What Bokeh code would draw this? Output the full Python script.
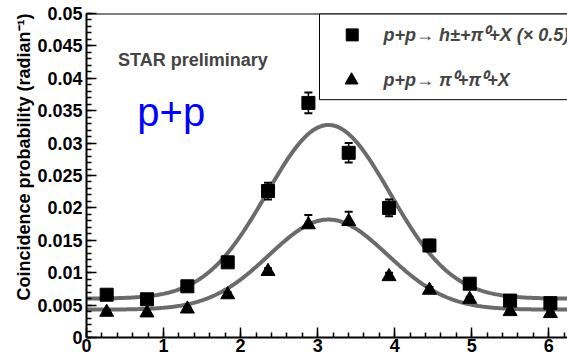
import numpy as np
from bokeh.plotting import figure
from bokeh.models import (FixedTicker, CustomJSTickFormatter, Label, Range1d, Span, Title)
from bokeh.embed import file_html
from bokeh.resources import INLINE

# Azimuthal bin centres (12 bins over 2*pi)
dphi = [0.262, 0.785, 1.309, 1.833, 2.356, 2.880, 3.403, 3.927, 4.451, 4.974, 5.498, 6.021]

# p+p -> h(+-) + pi0 + X  (scaled by 0.5)
hpi0 = [0.0066, 0.0059, 0.0079, 0.0116, 0.0226, 0.0362, 0.0285, 0.0200, 0.0142, 0.0083, 0.0057, 0.0053]
hpi0_err = [0.0004, 0.0004, 0.0004, 0.0005, 0.0013, 0.0016, 0.0015, 0.0013, 0.0009, 0.0005, 0.0004, 0.0004]

# p+p -> pi0 + pi0 + X
pi0pi0 = [0.0039, 0.0038, 0.0044, 0.0066, 0.0102, 0.0174, 0.0179, 0.0094, 0.0073, 0.0059, 0.0040, 0.0037]
pi0pi0_err = [0.0003, 0.0003, 0.0003, 0.0004, 0.0005, 0.0015, 0.0015, 0.0006, 0.0005, 0.0004, 0.0003, 0.0003]

# Gaussian + constant fit parameters: (constant, amplitude, mean, sigma)
fit_hpi0 = (0.0060, 0.0268, 3.14, 0.80)
fit_pi0pi0 = (0.0043, 0.0139, 3.14, 0.77)

x_ticks = [0, 1, 2, 3, 4, 5, 6]
y_ticks = [0, 0.005, 0.01, 0.015, 0.02, 0.025, 0.03, 0.035, 0.04, 0.045, 0.05]

FONT = "Liberation Sans"
CURVE = "#6b6b6b"

p = figure(width=567, height=359, output_backend="svg", toolbar_location=None,
           x_range=Range1d(0, 6.243), y_range=Range1d(0, 0.05),
           min_border_left=86, min_border_right=0, min_border_top=13, min_border_bottom=22)
p.outline_line_color = None
p.grid.visible = False
p.background_fill_color = "white"
p.border_fill_color = "white"

# Axes: ticks point into the frame, ROOT style
for ax in (p.xaxis[0], p.yaxis[0]):
    ax.axis_line_width = 2
    ax.axis_line_color = "black"
    ax.major_tick_in = 10
    ax.major_tick_out = 0
    ax.minor_tick_in = 5
    ax.minor_tick_out = 0
    ax.major_tick_line_width = 1.5
    ax.minor_tick_line_width = 1.5
    ax.major_label_text_font = FONT
    ax.major_label_text_font_style = "bold"
    ax.major_label_text_font_size = "18px"
    ax.major_label_text_color = "black"

p.xaxis.ticker = FixedTicker(ticks=x_ticks, minor_ticks=list(np.round(np.arange(0, 6.25, 0.2), 3)))
p.yaxis.ticker = FixedTicker(ticks=y_ticks, minor_ticks=list(np.round(np.arange(0, 0.0501, 0.001), 4)))
p.yaxis.formatter = CustomJSTickFormatter(
    code="return tick < 1e-9 ? '0' : String(parseFloat(tick.toFixed(3)));")
p.xaxis.major_label_standoff = 1
p.yaxis.major_label_standoff = 4

# Y axis title, justified to the top end of the axis
p.add_layout(Title(text="Coincidence probability (radian\u207b\u00b9)", align="right",
                   text_font=FONT, text_font_style="bold", text_font_size="18px",
                   text_color="black", standoff=2), "left")

# Top border of the frame
p.add_layout(Span(location=0.05, dimension="width", line_color="black", line_width=2))

# Fit curves
xs = np.linspace(0, 6.3, 400)
for c, a, m, s in (fit_hpi0, fit_pi0pi0):
    p.line(xs, c + a * np.exp(-0.5 * ((xs - m) / s) ** 2), line_color=CURVE, line_width=4)

# Error bars
h_lo = [v - e for v, e in zip(hpi0, hpi0_err)]
h_hi = [v + e for v, e in zip(hpi0, hpi0_err)]
p.segment(dphi, h_lo, dphi, h_hi, line_color="black", line_width=1.5)
p.scatter(dphi, h_lo, marker="dash", size=8, line_color="black", line_width=2)
p.scatter(dphi, h_hi, marker="dash", size=8, line_color="black", line_width=2)

t_hi = [v + e for v, e in zip(pi0pi0, pi0pi0_err)]
p.segment(dphi, pi0pi0, dphi, t_hi, line_color="black", line_width=1.5)
p.scatter(dphi, t_hi, marker="dash", size=8, line_color="black", line_width=2)

# Data points
p.scatter(dphi, hpi0, marker="square", size=13, fill_color="black", line_color="black")
p.scatter(dphi, pi0pi0, marker="triangle", size=14, fill_color="black", line_color="black")

# Legend box
p.quad(left=[3.024], right=[6.6], bottom=[0.0367], top=[0.05],
       fill_color="white", line_color="black", line_width=1)
p.scatter([3.449], [0.0467], marker="square", size=12, fill_color="black", line_color="black")
p.scatter([3.44], [0.0397], marker="triangle", size=13, fill_color="black", line_color="black")
p.add_layout(Label(x=3.855, y=0.0467, text="p+p\u2192 h\u00b1+\u03c0\u2070+X (\u00d7 0.5)",
                   text_font=FONT, text_font_style="bold italic", text_font_size="18px",
                   text_baseline="middle", text_align="left"))
p.add_layout(Label(x=3.855, y=0.0397, text="p+p\u2192 \u03c0\u2070+\u03c0\u2070+X",
                   text_font=FONT, text_font_style="bold italic", text_font_size="18px",
                   text_baseline="middle", text_align="left"))

# Annotations
p.add_layout(Label(x=0.41, y=0.0428, text="STAR preliminary", text_font=FONT,
                   text_font_style="bold", text_font_size="18px",
                   text_baseline="middle", text_align="left"))
p.add_layout(Label(x=0.66, y=0.0348, text="p+p", text_font=FONT,
                   text_font_size="40px", text_color="#0000ff",
                   text_baseline="middle", text_align="left"))

open("out.html", "w").write(file_html(p, INLINE))
